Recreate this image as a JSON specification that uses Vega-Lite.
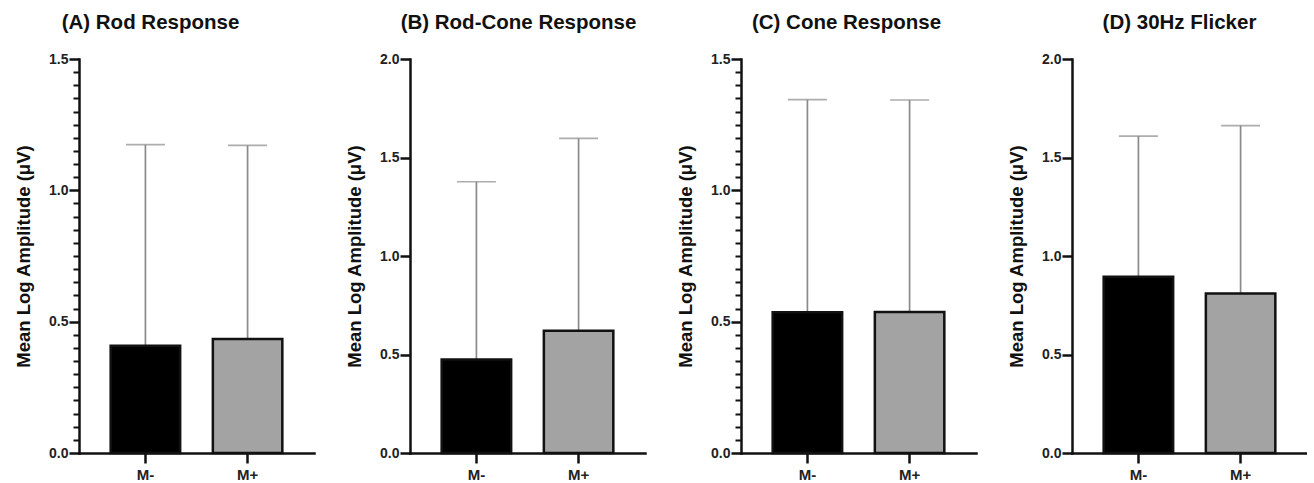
{
  "$schema": "https://vega.github.io/schema/vega-lite/v6.json",
  "background": "white",
  "padding": {"left": 14, "top": 12, "right": 0, "bottom": 0},
  "spacing": 31,
  "config": {
    "font": "Liberation Sans",
    "view": {"stroke": null},
    "title": {"font": "Liberation Sans", "fontSize": 20.5, "fontWeight": "bold", "color": "#111", "anchor": "middle", "frame": "group", "offset": 19},
    "axis": {"grid": false, "domainColor": "#111", "domainWidth": 2.5, "domainCap": "square", "tickColor": "#111", "tickWidth": 2.5, "tickSize": 10, "labelFont": "Liberation Sans", "labelFontWeight": "bold", "labelFontSize": 14, "labelColor": "#222", "labelOverlap": false, "titleFont": "Liberation Sans", "titleFontWeight": "bold", "titleFontSize": 18.5, "titleColor": "#111", "titlePadding": 15},
    "axisX": {"labelFontSize": 15, "labelPadding": 4}
  },
  "data": {"values": [
    {"panel": "A", "group": "M-", "mean": 0.408, "upper": 1.174},
    {"panel": "A", "group": "M+", "mean": 0.434, "upper": 1.171},
    {"panel": "B", "group": "M-", "mean": 0.474, "upper": 1.377},
    {"panel": "B", "group": "M+", "mean": 0.621, "upper": 1.597},
    {"panel": "C", "group": "M-", "mean": 0.536, "upper": 1.345},
    {"panel": "C", "group": "M+", "mean": 0.537, "upper": 1.344},
    {"panel": "D", "group": "M-", "mean": 0.895, "upper": 1.609},
    {"panel": "D", "group": "M+", "mean": 0.810, "upper": 1.662}
  ]},
  "hconcat": [
    {
      "title": {"text": "(A) Rod Response", "dx": -46},
      "width": 235, "height": 394,
      "transform": [{"filter": "datum.panel === 'A'"}],
      "encoding": {
        "x": {"field": "group", "type": "nominal", "sort": ["M-", "M+"], "scale": {"paddingInner": 0.32, "paddingOuter": 0.31}, "axis": {"title": null, "labelAngle": 0}}
      },
      "layer": [
        {"mark": {"type": "rule", "color": "#8a8a8a", "strokeWidth": 1.7},
         "encoding": {"y": {"field": "mean", "type": "quantitative", "scale": {"domain": [0, 1.5], "nice": false}, "axis": {"values": [0,0.05,0.1,0.15,0.2,0.25,0.3,0.35,0.4,0.45,0.5,0.55,0.6,0.65,0.7,0.75,0.8,0.85,0.9,0.95,1,1.05,1.1,1.15,1.2,1.25,1.3,1.35,1.4,1.45,1.5], "tickCount": 100, "labelExpr": "abs(datum.value*2 - round(datum.value*2)) < 0.001 ? format(datum.value, '.1f') : ''", "tickSize": {"condition": {"test": "abs(datum.value*2 - round(datum.value*2)) < 0.001", "value": 10}, "value": 6}, "tickWidth": {"condition": {"test": "abs(datum.value*2 - round(datum.value*2)) < 0.001", "value": 2.5}, "value": 2}, "labelPadding": 1, "title": "Mean Log Amplitude (μV)"}}, "y2": {"field": "upper"}}},
        {"mark": {"type": "tick", "color": "#8a8a8a", "thickness": 1.7, "size": 39, "orient": "horizontal"},
         "encoding": {"y": {"field": "upper", "type": "quantitative"}}},
        {"mark": {"type": "bar", "stroke": "#111", "strokeWidth": 2.5},
         "encoding": {"y": {"field": "mean", "type": "quantitative"},
           "fill": {"field": "group", "type": "nominal", "scale": {"domain": ["M-", "M+"], "range": ["#000000", "#a3a3a3"]}, "legend": null}}}
      ]
    },
    {
      "title": {"text": "(B) Rod-Cone Response", "dx": -9},
      "width": 235, "height": 394,
      "transform": [{"filter": "datum.panel === 'B'"}],
      "encoding": {
        "x": {"field": "group", "type": "nominal", "sort": ["M-", "M+"], "scale": {"paddingInner": 0.32, "paddingOuter": 0.31}, "axis": {"title": null, "labelAngle": 0}}
      },
      "layer": [
        {"mark": {"type": "rule", "color": "#8a8a8a", "strokeWidth": 1.7},
         "encoding": {"y": {"field": "mean", "type": "quantitative", "scale": {"domain": [0, 2], "nice": false}, "axis": {"values": [0, 0.5, 1, 1.5, 2], "format": ".1f", "labelPadding": 1, "title": "Mean Log Amplitude (μV)"}}, "y2": {"field": "upper"}}},
        {"mark": {"type": "tick", "color": "#8a8a8a", "thickness": 1.7, "size": 39, "orient": "horizontal"},
         "encoding": {"y": {"field": "upper", "type": "quantitative"}}},
        {"mark": {"type": "bar", "stroke": "#111", "strokeWidth": 2.5},
         "encoding": {"y": {"field": "mean", "type": "quantitative"},
           "fill": {"field": "group", "type": "nominal", "scale": {"domain": ["M-", "M+"], "range": ["#000000", "#a3a3a3"]}, "legend": null}}}
      ]
    },
    {
      "title": {"text": "(C) Cone Response", "dx": -12},
      "width": 235, "height": 394,
      "transform": [{"filter": "datum.panel === 'C'"}],
      "encoding": {
        "x": {"field": "group", "type": "nominal", "sort": ["M-", "M+"], "scale": {"paddingInner": 0.32, "paddingOuter": 0.31}, "axis": {"title": null, "labelAngle": 0}}
      },
      "layer": [
        {"mark": {"type": "rule", "color": "#8a8a8a", "strokeWidth": 1.7},
         "encoding": {"y": {"field": "mean", "type": "quantitative", "scale": {"domain": [0, 1.5], "nice": false}, "axis": {"values": [0,0.05,0.1,0.15,0.2,0.25,0.3,0.35,0.4,0.45,0.5,0.55,0.6,0.65,0.7,0.75,0.8,0.85,0.9,0.95,1,1.05,1.1,1.15,1.2,1.25,1.3,1.35,1.4,1.45,1.5], "tickCount": 100, "labelExpr": "abs(datum.value*2 - round(datum.value*2)) < 0.001 ? format(datum.value, '.1f') : ''", "tickSize": {"condition": {"test": "abs(datum.value*2 - round(datum.value*2)) < 0.001", "value": 10}, "value": 6}, "tickWidth": {"condition": {"test": "abs(datum.value*2 - round(datum.value*2)) < 0.001", "value": 2.5}, "value": 2}, "labelPadding": 1, "title": "Mean Log Amplitude (μV)"}}, "y2": {"field": "upper"}}},
        {"mark": {"type": "tick", "color": "#8a8a8a", "thickness": 1.7, "size": 39, "orient": "horizontal"},
         "encoding": {"y": {"field": "upper", "type": "quantitative"}}},
        {"mark": {"type": "bar", "stroke": "#111", "strokeWidth": 2.5},
         "encoding": {"y": {"field": "mean", "type": "quantitative"},
           "fill": {"field": "group", "type": "nominal", "scale": {"domain": ["M-", "M+"], "range": ["#000000", "#a3a3a3"]}, "legend": null}}}
      ]
    },
    {
      "title": {"text": "(D) 30Hz Flicker", "dx": -10},
      "width": 235, "height": 394,
      "transform": [{"filter": "datum.panel === 'D'"}],
      "encoding": {
        "x": {"field": "group", "type": "nominal", "sort": ["M-", "M+"], "scale": {"paddingInner": 0.32, "paddingOuter": 0.31}, "axis": {"title": null, "labelAngle": 0}}
      },
      "layer": [
        {"mark": {"type": "rule", "color": "#8a8a8a", "strokeWidth": 1.7},
         "encoding": {"y": {"field": "mean", "type": "quantitative", "scale": {"domain": [0, 2], "nice": false}, "axis": {"values": [0, 0.5, 1, 1.5, 2], "format": ".1f", "labelPadding": 1, "title": "Mean Log Amplitude (μV)"}}, "y2": {"field": "upper"}}},
        {"mark": {"type": "tick", "color": "#8a8a8a", "thickness": 1.7, "size": 39, "orient": "horizontal"},
         "encoding": {"y": {"field": "upper", "type": "quantitative"}}},
        {"mark": {"type": "bar", "stroke": "#111", "strokeWidth": 2.5},
         "encoding": {"y": {"field": "mean", "type": "quantitative"},
           "fill": {"field": "group", "type": "nominal", "scale": {"domain": ["M-", "M+"], "range": ["#000000", "#a3a3a3"]}, "legend": null}}}
      ]
    }
  ]
}
